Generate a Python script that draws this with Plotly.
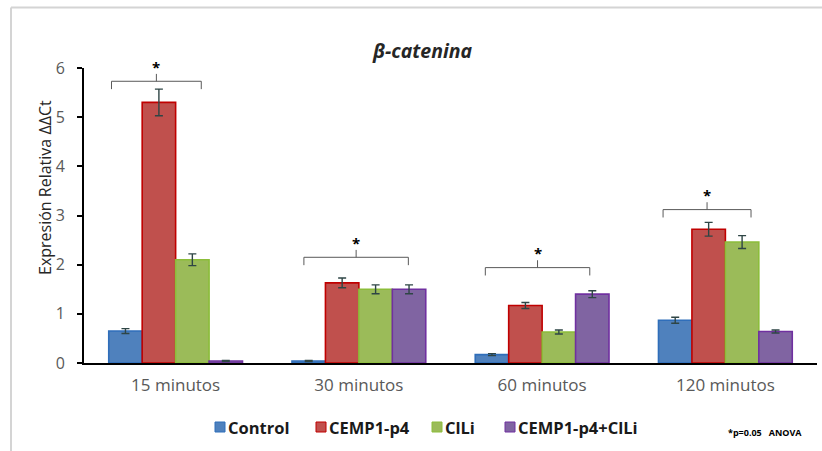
import plotly.graph_objects as go

# --- data -------------------------------------------------------------
categories = ["15 minutos", "30 minutos", "60 minutos", "120 minutos"]
series_names = ["Control", "CEMP1-p4", "ClLi", "CEMP1-p4+ClLi"]

control = [0.65, 0.04, 0.17, 0.87]
cemp1_p4 = [5.30, 1.63, 1.17, 2.72]
clli = [2.10, 1.50, 0.63, 2.46]
cemp1_p4_clli = [0.04, 1.50, 1.40, 0.64]

control_err = [0.05, 0.01, 0.02, 0.06]
cemp1_p4_err = [0.27, 0.10, 0.06, 0.14]
clli_err = [0.12, 0.09, 0.04, 0.13]
cemp1_p4_clli_err = [0.01, 0.09, 0.07, 0.03]

y_ticks = [0, 1, 2, 3, 4, 5, 6]

# --- styles -----------------------------------------------------------
fills = ["#4F81BD", "#C0504D", "#9BBB59", "#8064A2"]
edges = ["#2F6EBA", "#C00000", "#8CBD3A", "#7030A0"]
err_color = "#2E4545"
font_family = "'Open Sans', 'Noto Sans', sans-serif"

values = [control, cemp1_p4, clli, cemp1_p4_clli]
errors = [control_err, cemp1_p4_err, clli_err, cemp1_p4_clli_err]

W, H = 822, 451
L, R, T, B = 84, 5, 68, 88
pw, ph = W - L - R, H - T - B


def px_x(p):
    return (p - L) / pw


def px_y(p):
    return 1 - (p - T) / ph


fig = go.Figure()
xs = list(range(len(categories)))
for name, v, e, fc, ec in zip(series_names, values, errors, fills, edges):
    fig.add_trace(go.Bar(
        x=xs, y=v, name=name, showlegend=False,
        marker=dict(color=fc, line=dict(color=ec, width=1.6)),
        error_y=dict(type="data", array=e, visible=True,
                     color=err_color, thickness=1.4, width=4),
    ))

# significance brackets: (group index, left offset, right offset, level)
brackets = [
    (0, -0.35, 0.14, 5.73),
    (1, -0.30, 0.27, 2.15),
    (2, -0.31, 0.26, 1.94),
    (3, -0.34, 0.14, 3.12),
]
leg, tick = 0.16, 0.15
shapes = []
annotations = []
for g, lo, hi, lvl in brackets:
    x0, x1 = g + lo, g + hi
    xm = (x0 + x1) / 2
    shapes.append(dict(
        type="path", xref="x", yref="y",
        path=f"M {x0},{lvl - leg} L {x0},{lvl} L {x1},{lvl} L {x1},{lvl - leg}",
        line=dict(color="#595959", width=1),
    ))
    shapes.append(dict(type="line", xref="x", yref="y",
                       x0=xm, x1=xm, y0=lvl, y1=lvl + tick,
                       line=dict(color="#595959", width=1)))
    annotations.append(dict(x=xm, y=lvl + tick, xref="x", yref="y",
                            text="<b>*</b>", showarrow=False, yanchor="bottom",
                            yshift=-5,
                            font=dict(family=font_family, size=15, color="#000000")))

# outer frame (top and left edges)
shapes.append(dict(type="line", xref="paper", yref="paper",
                   x0=px_x(11), x1=px_x(W + 5), y0=px_y(7.5), y1=px_y(7.5),
                   line=dict(color="#D4D4D4", width=2)))
shapes.append(dict(type="line", xref="paper", yref="paper",
                   x0=px_x(11), x1=px_x(11), y0=px_y(7.5), y1=px_y(H + 5),
                   line=dict(color="#D4D4D4", width=2)))

# legend row: swatch left edge for each series
legend_x = [215, 316, 432, 505]
legend_y = 427
for name, fc, ec, lx in zip(series_names, fills, edges, legend_x):
    shapes.append(dict(type="rect", xref="paper", yref="paper",
                       x0=px_x(lx), x1=px_x(lx + 10),
                       y0=px_y(legend_y + 5), y1=px_y(legend_y - 5),
                       fillcolor=fc, line=dict(color=ec, width=1)))
    annotations.append(dict(x=px_x(lx + 11), y=px_y(legend_y), xref="paper",
                            yref="paper", xanchor="left", yanchor="middle",
                            text=f"<b>{name}</b>", showarrow=False,
                            font=dict(family=font_family, size=16.5,
                                      color="#1a1a1a")))

annotations.append(dict(x=px_x(32), y=px_y(188), xref="paper", yref="paper",
                        text="Expresión Relativa ΔΔCt", textangle=-90,
                        showarrow=False,
                        font=dict(family=font_family, size=16, color="#262626")))
annotations.append(dict(x=px_x(422), y=px_y(35), xref="paper", yref="paper",
                        text="<b><i>β-catenina</i></b>", showarrow=False,
                        font=dict(family=font_family, size=19.5, color="#262626")))
annotations.append(dict(x=px_x(804), y=px_y(441), xref="paper", yref="paper",
                        xanchor="right",
                        text="<b>*p=0.05   ANOVA</b>", showarrow=False,
                        font=dict(family=font_family, size=9, color="#000000")))

fig.update_layout(
    width=W, height=H,
    margin=dict(l=L, r=R, t=T, b=B),
    paper_bgcolor="white", plot_bgcolor="white",
    barmode="group", bargap=0.27, bargroupgap=0,
    font=dict(family=font_family, color="#595959"),
    showlegend=False,
    shapes=shapes, annotations=annotations,
    xaxis=dict(range=[-0.5, 3.5], tickvals=xs, ticktext=categories,
               showgrid=False, zeroline=False, showline=True,
               linecolor="#000000", linewidth=2, ticks="",
               ticklabelstandoff=6,
               tickfont=dict(size=17, color="#595959")),
    yaxis=dict(range=[0, 6], tickvals=y_ticks, showgrid=False, zeroline=False,
               showline=True, linecolor="#000000", linewidth=2,
               ticks="outside", ticklen=5, tickcolor="#000000", tickwidth=1.5,
               ticklabelstandoff=9,
               tickfont=dict(size=16, color="#595959")),
)

fig.write_html("out.html")
